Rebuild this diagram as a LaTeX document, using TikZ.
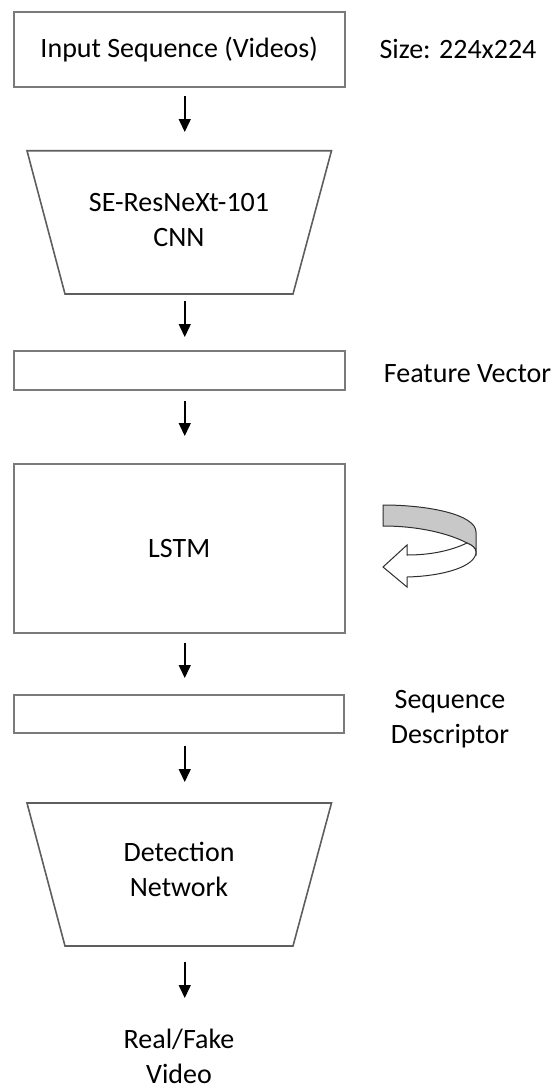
\documentclass[tikz,border=0pt]{standalone}
\usepackage{fontspec}
\setmainfont{Carlito}
\usetikzlibrary{arrows.meta}
\definecolor{boxgray}{HTML}{7A7A7A}
\definecolor{trapgray}{HTML}{5E5E5E}
\definecolor{bandgray}{HTML}{C8C8C8}
\definecolor{inkdark}{HTML}{2E2E2E}
\begin{document}
\begin{tikzpicture}[x=1pt,y=-1pt,
  lbl/.style={font=\fontsize{28}{35}\selectfont, align=center, inner sep=0pt},
  box/.style={draw=boxgray, line width=2pt, inner sep=0pt, font=\fontsize{28}{35}\selectfont},
  trap/.style={draw=trapgray, line width=1.6pt, line join=miter},
  arr/.style={-{Triangle[length=13pt,width=12pt]}, line width=1.5pt, black}]

\useasboundingbox (0,0) rectangle (559,1088);

% ---- pipeline blocks ----
\node[box, minimum width=331.5pt, minimum height=75pt] (inp) at (179.25,49.5) {Input Sequence (Videos)};
\node[lbl] (size) at (458,49) {Size: 224x224};

\draw[trap] (27,150.7) -- (331.5,150.7) -- (293,294) -- (65,294) -- cycle;
\coordinate (cnn-t) at (179.25,150.7);
\coordinate (cnn-b) at (179.25,294);
\node[lbl] (cnn) at (179,220.5) {SE-ResNeXt-101\\CNN};

\node[box, minimum width=331.5pt, minimum height=39pt] (fv) at (179.25,370.5) {};
\node[lbl] (fvlbl) at (467.5,374) {Feature Vector};

\node[box, minimum width=331.5pt, minimum height=169pt] (lstm) at (179.25,548.5) {LSTM};

\node[box, minimum width=330.5pt, minimum height=38pt] (seq) at (178.75,714) {};
\node[lbl] (seqlbl) at (450,719.5) {Sequence\\Descriptor};

\draw[trap] (27,803) -- (331.5,803) -- (293,946) -- (65,946) -- cycle;
\coordinate (det-t) at (179.25,803);
\coordinate (det-b) at (179.25,946);
\node[lbl] (det) at (179,869) {Detection\\Network};

\node[lbl] (out) at (179,1056) {Real/Fake\\Video};
\coordinate (out-t) at (179.25,1024);

% ---- recurrence symbol beside the LSTM ----
\fill[bandgray, draw=inkdark, line width=1pt]
  (383,505) .. controls (430,505) and (476,515) .. (476,532)
  -- (476,552) .. controls (476,548) and (472,545) .. (467,543)
  .. controls (450,534) and (420,526) .. (383,526) -- cycle;
\filldraw[fill=white, draw=inkdark, line width=1pt, line join=miter]
  (467,543) .. controls (450,551) and (430,555) .. (407,555)
  -- (407,545) -- (383,567) -- (407,587) -- (407,577)
  .. controls (445,576) and (476,566) .. (476,552)
  .. controls (476,548) and (472,545) .. (467,543) -- cycle;

% ---- connectors ----
\draw[arr, shorten <=8pt, shorten >=18.7pt] ([xshift=5.5pt]inp.south) -- ([xshift=5.5pt]cnn-t);
\draw[arr, shorten <=7pt, shorten >=13pt] ([xshift=5.5pt]cnn-b) -- ([xshift=5.5pt]fv.north);
\draw[arr, shorten <=10pt, shorten >=27pt] ([xshift=5.5pt]fv.south) -- ([xshift=5.5pt]lstm.north);
\draw[arr, shorten <=9pt, shorten >=16pt] ([xshift=5.5pt]lstm.south) -- ([xshift=6pt]seq.north);
\draw[arr, shorten <=12pt, shorten >=21pt] ([xshift=6pt]seq.south) -- ([xshift=5.5pt]det-t);
\draw[arr, shorten <=16pt, shorten >=26pt] ([xshift=5.5pt]det-b) -- ([xshift=5.5pt]out-t);

\end{tikzpicture}
\end{document}
